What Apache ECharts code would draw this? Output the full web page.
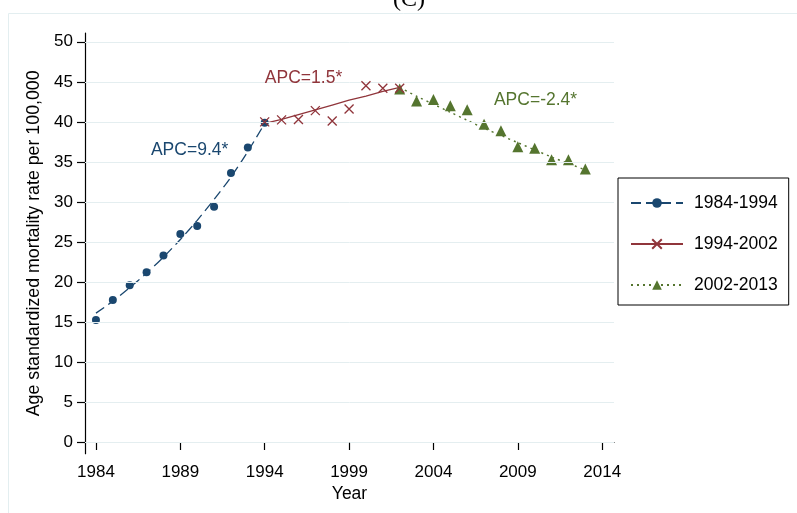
<!DOCTYPE html>
<html>
<head>
<meta charset="utf-8">
<title>Age standardized mortality rate, joinpoint segments</title>
<script src="https://cdn.jsdelivr.net/npm/echarts@6/dist/echarts.min.js"></script>
<style>
  html, body { margin: 0; padding: 0; background: #fff; }
  #chart { width: 797px; height: 513px; }
</style>
</head>
<body>
<div id="chart"></div>
<script>
// Observed rates per segment (year, rate)
const yearsA = [1984, 1985, 1986, 1987, 1988, 1989, 1990, 1991, 1992, 1993, 1994];
const ratesA = [15.25, 17.75, 19.6, 21.2, 23.3, 26.0, 27.0, 29.4, 33.6, 36.8, 39.9];
const yearsB = [1994, 1995, 1996, 1997, 1998, 1999, 2000, 2001, 2002];
const ratesB = [40.0, 40.25, 40.3, 41.4, 40.1, 41.6, 44.5, 44.2, 44.2];
const yearsC = [2002, 2003, 2004, 2005, 2006, 2007, 2008, 2009, 2010, 2011, 2012, 2013];
const ratesC = [44.1, 42.6, 42.8, 42.0, 41.5, 39.7, 38.9, 36.9, 36.7, 35.25, 35.25, 34.1];

// Fitted joinpoint trend per segment
const fitA = [16.1, 17.6, 19.3, 21.1, 23.1, 25.3, 27.7, 30.3, 33.1, 36.3, 39.8];
const fitB = [39.8, 40.3, 40.9, 41.5, 42.1, 42.7, 43.2, 43.8, 44.3];
const fitC = [44.3, 43.2, 42.2, 41.2, 40.2, 39.2, 38.3, 37.4, 36.5, 35.6, 34.8, 34.0];

const segmentNames = ['1984-1994', '1994-2002', '2002-2013'];
const apcLabels = ['APC=9.4*', 'APC=1.5*', 'APC=-2.4*'];
const apcAnchors = [[1989.55, 36.5], [1996.3, 45.5], [2010.05, 42.7]];

const xTicks = [1984, 1989, 1994, 1999, 2004, 2009, 2014];
const yTicks = [0, 5, 10, 15, 20, 25, 30, 35, 40, 45, 50];

const navy = '#1a476f';
const maroon = '#90353b';
const forest = '#55752f';
const font = '"Liberation Sans", Arial, sans-serif';
const crossPath = 'path://M0,0L10,10M10,0L0,10';

const pairs = (xs, ys) => xs.map((x, i) => [x, ys[i]]);
const plain = v => String(v);

function apcMark(i, color) {
  return {
    silent: true,
    symbol: 'circle',
    symbolSize: 0,
    label: {
      show: true,
      position: 'inside',
      formatter: apcLabels[i],
      color: color,
      fontSize: 17.5,
      fontFamily: font
    },
    data: [{ coord: apcAnchors[i] }]
  };
}

const chart = echarts.init(document.getElementById('chart'), null, { renderer: 'canvas' });

chart.setOption({
  animation: false,
  backgroundColor: '#fff',
  textStyle: { fontFamily: font },
  grid: { left: 85, right: 183, top: 33, bottom: 59.3, containLabel: false },
  graphic: [
    {
      type: 'rect',
      silent: true,
      shape: { x: 8.5, y: 13.5, width: 820, height: 520 },
      style: { fill: 'none', stroke: '#e3eef0', lineWidth: 1 }
    },
    {
      type: 'text',
      silent: true,
      style: {
        text: '(C)',
        x: 409,
        y: 12,
        align: 'center',
        verticalAlign: 'bottom',
        font: '24px "Liberation Serif", "Times New Roman", serif',
        fill: '#000'
      }
    }
  ],
  legend: {
    orient: 'vertical',
    left: 618,
    top: 178,
    data: segmentNames,
    itemWidth: 52,
    itemHeight: 12,
    itemGap: 23,
    padding: [16, 11, 11, 12],
    borderColor: '#000',
    borderWidth: 1,
    selectedMode: false,
    textStyle: { fontSize: 17.5, color: '#000', fontFamily: font, padding: [0, 0, 0, 6] }
  },
  xAxis: {
    type: 'value',
    min: 1983.35,
    max: 2014.7,
    name: 'Year',
    nameLocation: 'middle',
    nameGap: 30,
    nameTextStyle: { fontSize: 17.5, color: '#000', fontFamily: font },
    axisLine: { lineStyle: { color: '#000', width: 1.2 } },
    axisTick: { customValues: xTicks, length: 8, lineStyle: { color: '#000', width: 1.2 } },
    axisLabel: { customValues: xTicks, formatter: plain, margin: 10, fontSize: 17, color: '#000', fontFamily: font },
    splitLine: { show: false }
  },
  yAxis: {
    type: 'value',
    min: -1.46,
    max: 51.1,
    name: 'Age standardized mortality rate per 100,000',
    nameLocation: 'middle',
    nameGap: 35,
    nameTextStyle: { fontSize: 17.8, color: '#000', fontFamily: font },
    axisLine: { show: true, lineStyle: { color: '#000', width: 1.2 } },
    axisTick: { show: true, customValues: yTicks, length: 8, lineStyle: { color: '#000', width: 1.2 } },
    axisLabel: { customValues: yTicks, formatter: plain, margin: 12, fontSize: 17, color: '#000', fontFamily: font },
    splitLine: { show: false }
  },
  series: [
    // horizontal reference lines at each labelled rate
    {
      name: 'grid',
      type: 'line',
      data: [],
      silent: true,
      z: 1,
      markLine: {
        silent: true,
        symbol: 'none',
        label: { show: false },
        lineStyle: { color: '#e4eef0', width: 1, type: 'solid' },
        data: yTicks.map(v => ({ yAxis: v }))
      }
    },
    {
      name: segmentNames[0],
      type: 'line',
      data: pairs(yearsA, fitA),
      smooth: 0.3,
      showSymbol: false,
      symbol: 'circle',
      itemStyle: { color: navy },
      lineStyle: { color: navy, width: 1.3, type: [10, 5] },
      z: 3,
      markPoint: apcMark(0, navy)
    },
    {
      name: segmentNames[1],
      type: 'line',
      data: pairs(yearsB, fitB),
      showSymbol: false,
      symbol: crossPath,
      itemStyle: { color: maroon, borderColor: maroon, borderWidth: 1.3 },
      lineStyle: { color: maroon, width: 1.3, type: 'solid' },
      z: 3,
      markPoint: apcMark(1, maroon)
    },
    {
      name: segmentNames[2],
      type: 'line',
      data: pairs(yearsC, fitC),
      smooth: 0.3,
      showSymbol: false,
      symbol: 'triangle',
      itemStyle: { color: forest },
      lineStyle: { color: forest, width: 1.4, type: [2, 4] },
      z: 3,
      markPoint: apcMark(2, forest)
    },
    {
      name: 'observed 1984-1994',
      type: 'scatter',
      data: pairs(yearsA, ratesA),
      symbol: 'circle',
      symbolSize: 8,
      itemStyle: { color: navy, opacity: 1 },
      z: 4
    },
    {
      name: 'observed 1994-2002',
      type: 'scatter',
      data: pairs(yearsB, ratesB),
      symbol: crossPath,
      symbolSize: 9,
      itemStyle: { color: maroon, borderColor: maroon, borderWidth: 1.3, opacity: 1 },
      z: 5
    },
    {
      name: 'observed 2002-2013',
      type: 'scatter',
      data: pairs(yearsC, ratesC),
      symbol: 'triangle',
      symbolSize: 11,
      itemStyle: { color: forest, opacity: 1 },
      z: 4
    }
  ]
});
</script>
</body>
</html>
